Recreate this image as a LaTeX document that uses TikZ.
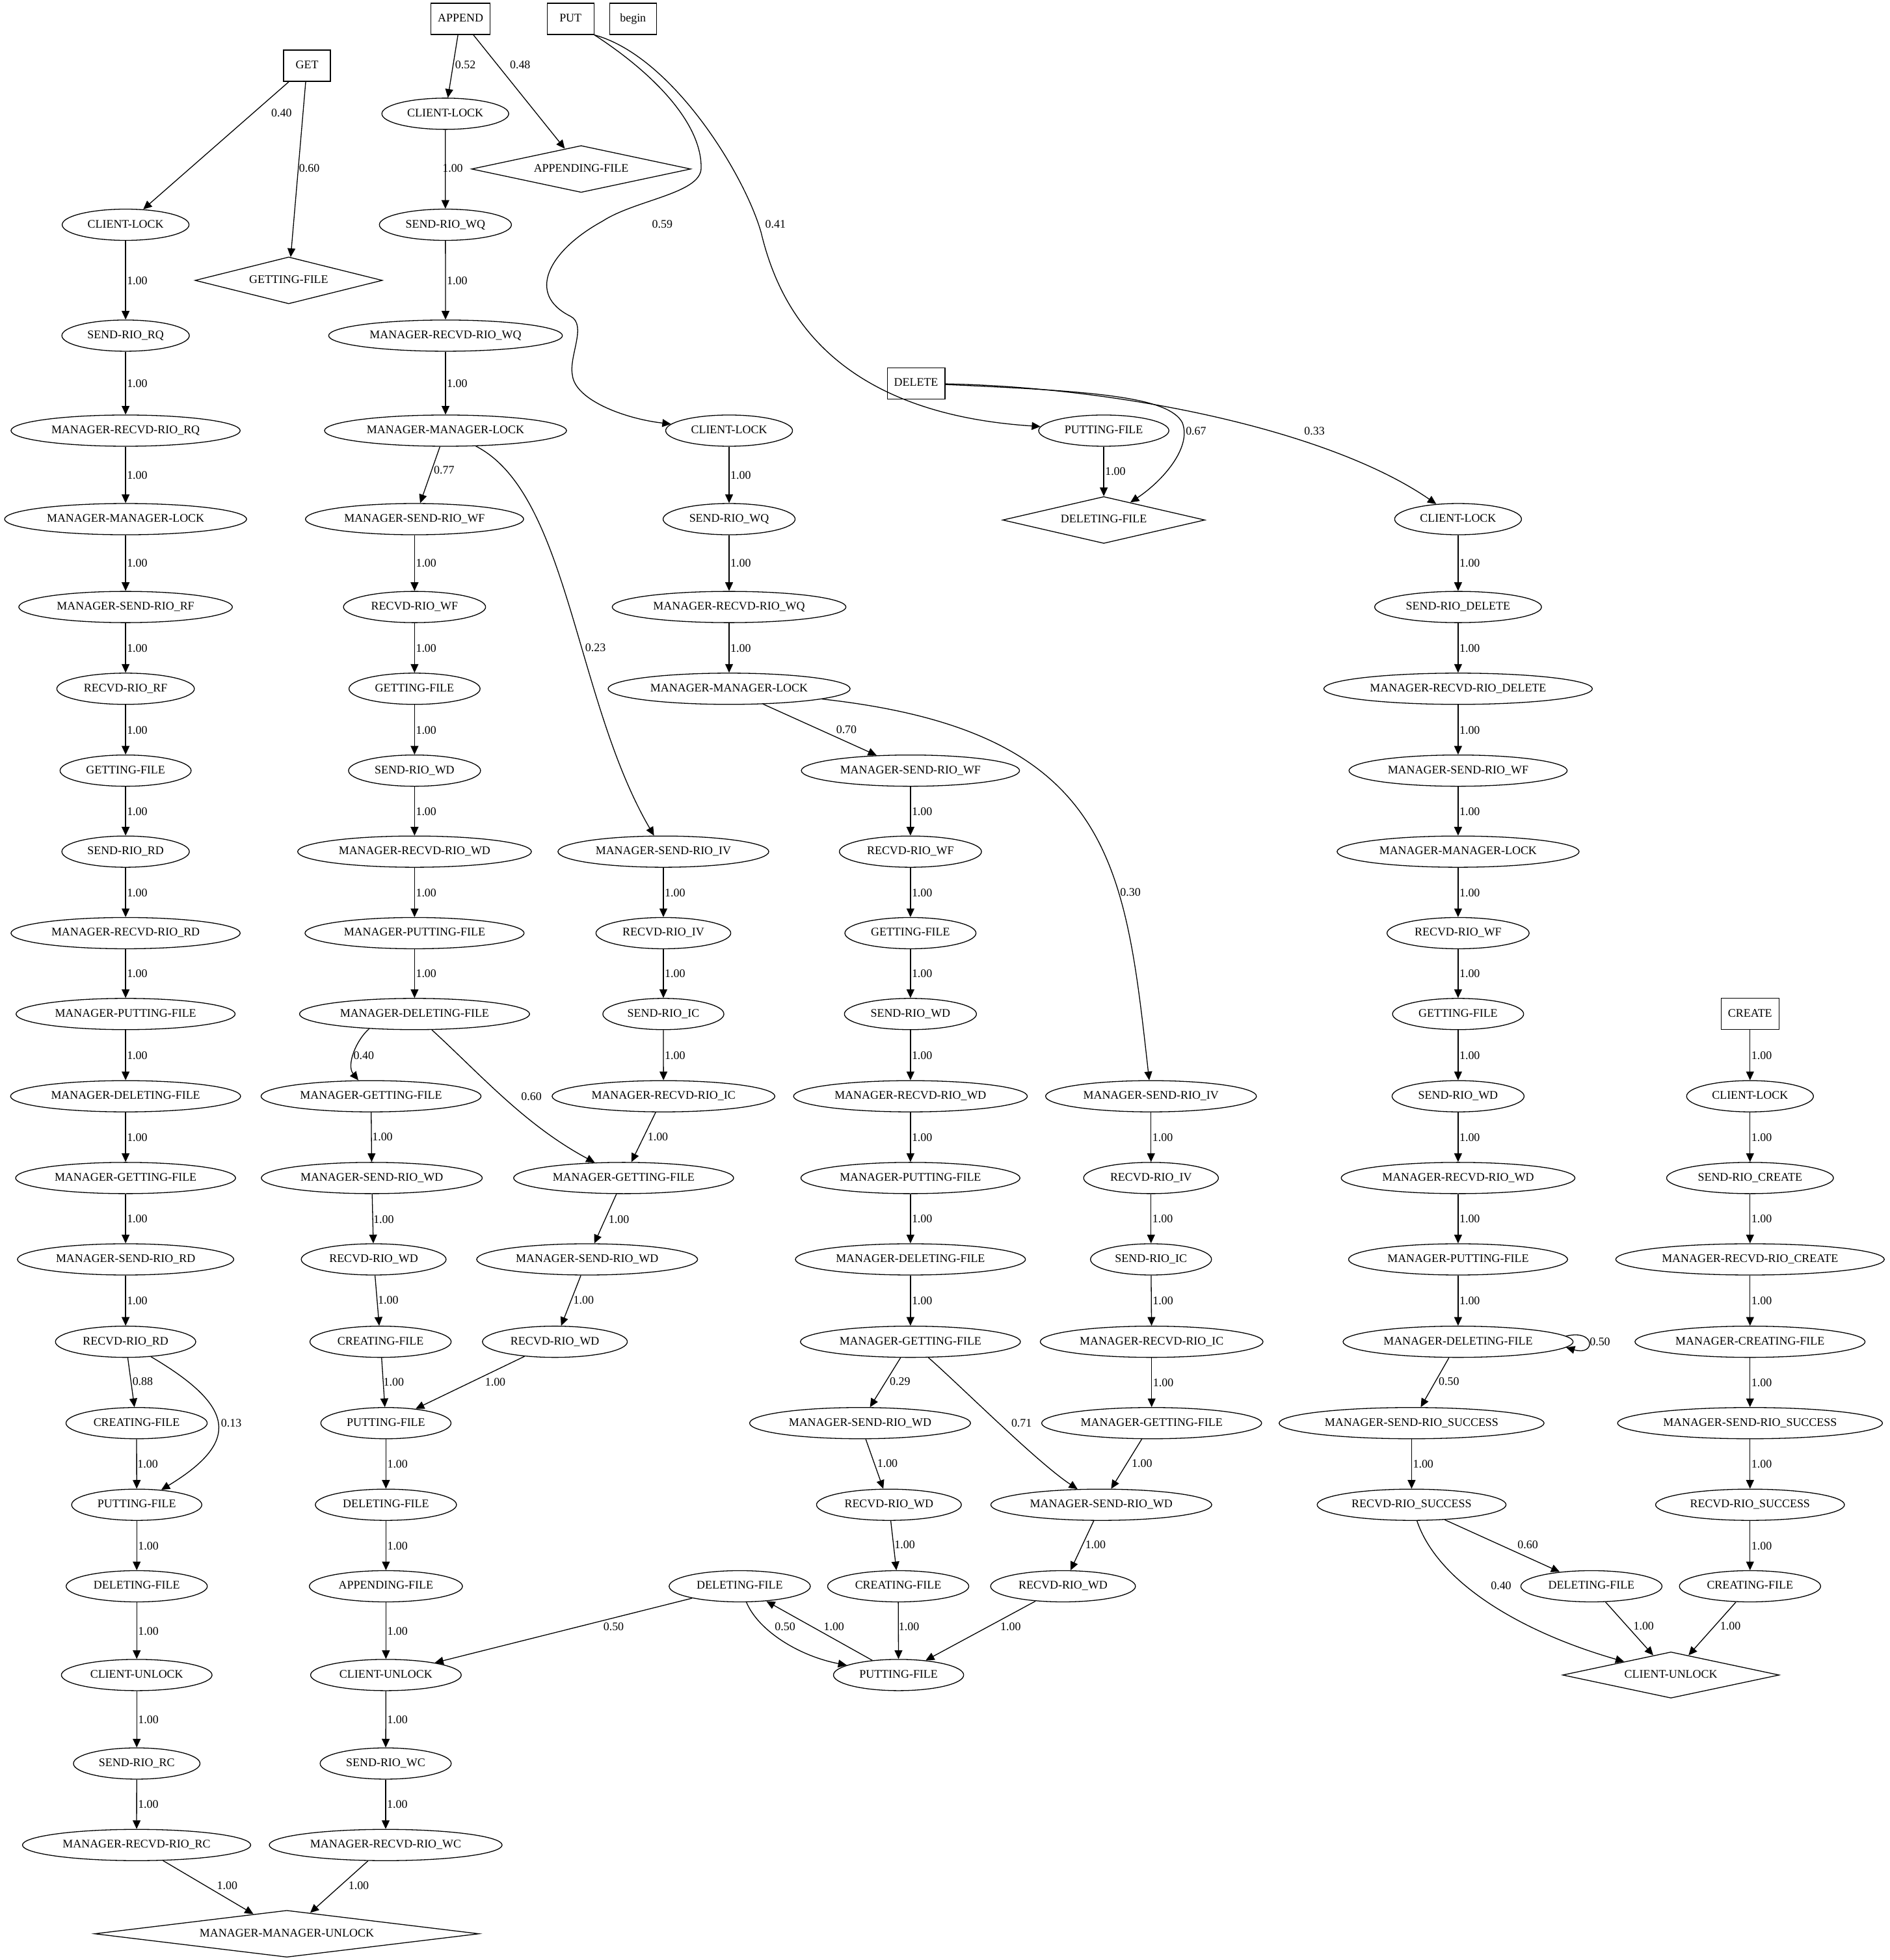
\documentclass[tikz,border=0pt]{standalone}
\usepackage{fontspec}
\setmainfont{Liberation Serif}
\usetikzlibrary{arrows.meta,shapes.geometric}
\begin{document}
\begin{tikzpicture}[x=1.9213bp,y=-1.9213bp,
  every node/.style={font=\fontsize{18}{21}\selectfont},
  st/.style={draw,ellipse,line width=1.3bp,inner xsep=10.5bp,inner ysep=5.3bp,
    minimum height=48bp,minimum width=72bp,text height=12.6bp,text depth=3.6bp},
  op/.style={draw,rectangle,line width=1.3bp,inner xsep=10.5bp,inner ysep=0pt,
    minimum height=48bp,minimum width=72bp,text height=12.6bp,text depth=3.6bp},
  term/.style={draw,diamond,aspect=6,inner sep=0pt,line width=1.3bp,
    minimum height=72bp,text height=12.6bp,text depth=3.6bp},
  arr/.style={-{Triangle[length=13.3bp,width=12bp]},line width=1.3bp},
  lbl/.style={inner sep=1.5bp,anchor=west,text height=12.6bp,text depth=0pt},
  tag/.style={inner sep=0pt,text height=12.6bp,text depth=0pt},
]
\useasboundingbox (0,0) rectangle (1512,1568);

% ---------- operation boxes ----------
\node[op] (APPEND) at (368.5,15.1) {APPEND};
\node[op] (PUT)    at (456.5,15.1) {PUT};
\node[op] (begin)  at (506.5,15.1) {begin};
\node[op] (GET)    at (245.7,52.6) {GET};
\node[op] (DELETE) at (733,306.6)  {DELETE};
\node[op] (CREATE) at (1400.3,811.2) {CREATE};

% ---------- GET chain ----------
\node[term,minimum width=288bp] (gfd) at (231,224.3) {GETTING-FILE};
\node[st] (clg)   at (100.5,179.8) {CLIENT-LOCK};
\node[st] (srrq)  at (100.5,268.5) {SEND-RIO\_RQ};
\node[st] (mrrrq) at (100.5,344.5) {MANAGER-RECVD-RIO\_RQ};
\node[st] (mmlg)  at (100.5,415.3) {MANAGER-MANAGER-LOCK};
\node[st] (msrrf) at (100.5,485.6) {MANAGER-SEND-RIO\_RF};
\node[st] (rrrf)  at (100.5,551)   {RECVD-RIO\_RF};
\node[st] (gfg)   at (100.5,616.5) {GETTING-FILE};
\node[st] (srrd)  at (100.5,681.3) {SEND-RIO\_RD};
\node[st] (mrrrd) at (100.5,746.5) {MANAGER-RECVD-RIO\_RD};
\node[st] (mpfg)  at (100.5,811.2) {MANAGER-PUTTING-FILE};
\node[st] (mdfg)  at (100.5,877)   {MANAGER-DELETING-FILE};
\node[st] (mgfg)  at (100.5,942.4) {MANAGER-GETTING-FILE};
\node[st] (msrrd) at (100.5,1007.5) {MANAGER-SEND-RIO\_RD};
\node[st] (rrrd)  at (100.5,1073.4) {RECVD-RIO\_RD};
\node[st] (cfg)   at (109.3,1138.5) {CREATING-FILE};
\node[st] (pfg)   at (109.4,1203.8) {PUTTING-FILE};
\node[st] (dfg)   at (109.4,1269)   {DELETING-FILE};
\node[st] (cug)   at (109.4,1340)   {CLIENT-UNLOCK};
\node[st] (srrc)  at (109.4,1410.8) {SEND-RIO\_RC};
\node[st] (mrrrc) at (109.3,1476)   {MANAGER-RECVD-RIO\_RC};
\node[term,minimum width=591bp] (mmu) at (229.5,1547) {MANAGER-MANAGER-UNLOCK};

% ---------- APPEND chain ----------
\node[st] (cla)    at (356.3,91)    {CLIENT-LOCK};
\node[term,minimum width=337bp] (afd) at (465,135.2) {APPENDING-FILE};
\node[st] (srwqa)  at (356.4,179.8) {SEND-RIO\_WQ};
\node[st] (mrrwqa) at (356.5,268.5) {MANAGER-RECVD-RIO\_WQ};
\node[st] (mmla)   at (356.5,344.5) {MANAGER-MANAGER-LOCK};
\node[st] (msrwfa) at (331.7,415.3) {MANAGER-SEND-RIO\_WF};
\node[st] (rrwfa)  at (331.7,485.6) {RECVD-RIO\_WF};
\node[st] (gfa)    at (331.7,551)   {GETTING-FILE};
\node[st] (srwda)  at (331.7,616.5) {SEND-RIO\_WD};
\node[st] (mrrwda) at (331.7,681.3) {MANAGER-RECVD-RIO\_WD};
\node[st] (mpfa)   at (331.7,746.5) {MANAGER-PUTTING-FILE};
\node[st] (mdfa)   at (331.7,811.2) {MANAGER-DELETING-FILE};
\node[st] (mgfa)   at (296.9,877)   {MANAGER-GETTING-FILE};
\node[st] (msrwda) at (297.5,942.4) {MANAGER-SEND-RIO\_WD};
\node[st] (rrwda)  at (299,1007.5)  {RECVD-RIO\_WD};
\node[st] (cfa)    at (304.5,1073.4) {CREATING-FILE};
\node[st] (pfa)    at (308.8,1138.5) {PUTTING-FILE};
\node[st] (dfa)    at (308.8,1203.8) {DELETING-FILE};
\node[st] (afa)    at (308.8,1269)   {APPENDING-FILE};
\node[st] (cua)    at (308.8,1340)   {CLIENT-UNLOCK};
\node[st] (srwc)   at (308.6,1410.8) {SEND-RIO\_WC};
\node[st] (mrrwc)  at (308.6,1476)   {MANAGER-RECVD-RIO\_WC};

\node[st] (msrivb) at (530.8,681.3) {MANAGER-SEND-RIO\_IV};
\node[st] (rrivb)  at (530.8,746.5) {RECVD-RIO\_IV};
\node[st] (sricb)  at (530.8,811.2) {SEND-RIO\_IC};
\node[st] (mrricb) at (530.9,877)   {MANAGER-RECVD-RIO\_IC};
\node[st] (mgfb)   at (499,942.4)   {MANAGER-GETTING-FILE};
\node[st] (msrwdb) at (469.8,1007.5) {MANAGER-SEND-RIO\_WD};
\node[st] (rrwdb)  at (444,1073.4)  {RECVD-RIO\_WD};

% ---------- PUT chain ----------
\node[st] (clp)    at (583.4,344.5) {CLIENT-LOCK};
\node[st] (srwqp)  at (583.4,415.3) {SEND-RIO\_WQ};
\node[st] (mrrwqp) at (583.4,485.6) {MANAGER-RECVD-RIO\_WQ};
\node[st] (mmlp)   at (583.4,551)   {MANAGER-MANAGER-LOCK};
\node[st] (msrwfp) at (728.5,616.5) {MANAGER-SEND-RIO\_WF};
\node[st] (rrwfp)  at (728.5,681.3) {RECVD-RIO\_WF};
\node[st] (gfp)    at (728.5,746.5) {GETTING-FILE};
\node[st] (srwdp)  at (728.5,811.2) {SEND-RIO\_WD};
\node[st] (mrrwdp) at (728.5,877)   {MANAGER-RECVD-RIO\_WD};
\node[st] (mpfp)   at (728.5,942.4) {MANAGER-PUTTING-FILE};
\node[st] (mdfp)   at (728.5,1007.5) {MANAGER-DELETING-FILE};
\node[st] (mgfp)   at (728.5,1073.4) {MANAGER-GETTING-FILE};
\node[st] (msrwdc) at (688.2,1138.5) {MANAGER-SEND-RIO\_WD};
\node[st] (rrwdc)  at (711.3,1203.8) {RECVD-RIO\_WD};
\node[st] (cfc)    at (718.7,1269)   {CREATING-FILE};
\node[st] (pfc)    at (719,1340)     {PUTTING-FILE};
\node[st] (dfc)    at (591.9,1269)   {DELETING-FILE};
\node[st] (pfp)    at (883.2,344.5)  {PUTTING-FILE};
\node[term,minimum width=311bp] (dfd) at (883.2,416) {DELETING-FILE};

\node[st] (msrivc) at (921,877)     {MANAGER-SEND-RIO\_IV};
\node[st] (rrivc)  at (921,942.4)   {RECVD-RIO\_IV};
\node[st] (sricc)  at (921,1007.5)  {SEND-RIO\_IC};
\node[st] (mrricc) at (921.5,1073.4) {MANAGER-RECVD-RIO\_IC};
\node[st] (mgfc)   at (921.5,1138.5) {MANAGER-GETTING-FILE};
\node[st] (msrwdd) at (881.2,1203.8) {MANAGER-SEND-RIO\_WD};
\node[st] (rrwdd)  at (850.6,1269)   {RECVD-RIO\_WD};

% ---------- DELETE chain ----------
\node[st] (cld)    at (1166.7,415.3) {CLIENT-LOCK};
\node[st] (srdel)  at (1166.7,485.6) {SEND-RIO\_DELETE};
\node[st] (mrrdel) at (1166.7,551)   {MANAGER-RECVD-RIO\_DELETE};
\node[st] (msrwfd) at (1166.7,616.5) {MANAGER-SEND-RIO\_WF};
\node[st] (mmld)   at (1166.7,681.3) {MANAGER-MANAGER-LOCK};
\node[st] (rrwfd)  at (1166.7,746.5) {RECVD-RIO\_WF};
\node[st] (gfdel)  at (1166.7,811.2) {GETTING-FILE};
\node[st] (srwdd)  at (1166.7,877)   {SEND-RIO\_WD};
\node[st] (mrrwdd) at (1166.7,942.4) {MANAGER-RECVD-RIO\_WD};
\node[st] (mpfd)   at (1166.7,1007.5) {MANAGER-PUTTING-FILE};
\node[st] (mdfd)   at (1166.7,1073.4) {MANAGER-DELETING-FILE};
\node[st] (msrsd)  at (1129.5,1138.5) {MANAGER-SEND-RIO\_SUCCESS};
\node[st] (rrsd)   at (1129.5,1203.8) {RECVD-RIO\_SUCCESS};
\node[st] (dfdel)  at (1273.4,1269)   {DELETING-FILE};
\node[term,minimum width=333bp,minimum height=71bp] (cud) at (1337,1340) {CLIENT-UNLOCK};

% ---------- CREATE chain ----------
\node[st] (clcr)   at (1400.3,877)   {CLIENT-LOCK};
\node[st] (srcr)   at (1400.3,942.4) {SEND-RIO\_CREATE};
\node[st] (mrrcr)  at (1400.3,1007.5) {MANAGER-RECVD-RIO\_CREATE};
\node[st] (mcf)    at (1400.3,1073.4) {MANAGER-CREATING-FILE};
\node[st] (msrscr) at (1400.3,1138.5) {MANAGER-SEND-RIO\_SUCCESS};
\node[st] (rrscr)  at (1400.3,1203.8) {RECVD-RIO\_SUCCESS};
\node[st] (cfcr)   at (1400.3,1269)   {CREATING-FILE};

% ========== transitions ==========
% GET
\draw[arr] (GET) -- (clg) node[tag] at (225.3,90.2) {0.40};
\draw[arr] (GET) -- (gfd) node[tag] at (247.5,134.5) {0.60};
\draw[arr] (clg) -- node[lbl] {1.00} (srrq);
\draw[arr] (srrq) -- node[lbl] {1.00} (mrrrq);
\draw[arr] (mrrrq) -- node[lbl] {1.00} (mmlg);
\draw[arr] (mmlg) -- node[lbl] {1.00} (msrrf);
\draw[arr] (msrrf) -- node[lbl] {1.00} (rrrf);
\draw[arr] (rrrf) -- node[lbl] {1.00} (gfg);
\draw[arr] (gfg) -- node[lbl] {1.00} (srrd);
\draw[arr] (srrd) -- node[lbl] {1.00} (mrrrd);
\draw[arr] (mrrrd) -- node[lbl] {1.00} (mpfg);
\draw[arr] (mpfg) -- node[lbl] {1.00} (mdfg);
\draw[arr] (mdfg) -- node[lbl] {1.00} (mgfg);
\draw[arr] (mgfg) -- node[lbl] {1.00} (msrrd);
\draw[arr] (msrrd) -- node[lbl] {1.00} (rrrd);
\draw[arr] (rrrd) -- (cfg) node[tag] at (114.2,1105.1) {0.88};
\draw[arr] (rrrd) .. controls (188,1125) and (193,1153) .. (pfg)
  node[tag] at (185.1,1138) {0.13};
\draw[arr] (cfg) -- (pfg) node[tag] at (118.2,1170.8) {1.00};
\draw[arr] (pfg) -- node[lbl] {1.00} (dfg);
\draw[arr] (dfg) -- node[lbl] {1.00} (cug);
\draw[arr] (cug) -- node[lbl] {1.00} (srrc);
\draw[arr] (srrc) -- node[lbl] {1.00} (mrrrc);
\draw[arr] (mrrrc) -- (mmu) node[tag] at (181.8,1508) {1.00};

% APPEND
\draw[arr] (APPEND) -- (cla) node[tag] at (372.4,51.7) {0.52};
\draw[arr] (APPEND) -- (afd) node[tag] at (416.2,51.7) {0.48};
\draw[arr] (cla) -- (srwqa) node[tag] at (362.2,134.5) {1.00};
\draw[arr] (srwqa) -- node[lbl] {1.00} (mrrwqa);
\draw[arr] (mrrwqa) -- node[lbl] {1.00} (mmla);
\draw[arr] (mmla) -- (msrwfa) node[tag] at (355.4,376) {0.77};
\draw[arr] (mmla) .. controls (455,395) and (460,560) .. (msrivb)
  node[tag] at (476.5,518.1) {0.23};
\draw[arr] (msrwfa) -- node[lbl] {1.00} (rrwfa);
\draw[arr] (rrwfa) -- node[lbl] {1.00} (gfa);
\draw[arr] (gfa) -- node[lbl] {1.00} (srwda);
\draw[arr] (srwda) -- node[lbl] {1.00} (mrrwda);
\draw[arr] (mrrwda) -- node[lbl] {1.00} (mpfa);
\draw[arr] (mpfa) -- node[lbl] {1.00} (mdfa);
\draw[arr] (mdfa.198) .. controls (285,832) and (277,852) .. (mgfa)
  node[tag] at (291.1,844.4) {0.40};
\draw[arr] (mdfa) .. controls (385,860) and (420,900) .. (mgfb)
  node[tag] at (425.2,876.9) {0.60};
\draw[arr] (mgfa) -- (msrwda) node[tag] at (306,909.5) {1.00};
\draw[arr] (msrwda) -- (rrwda) node[tag] at (307,975.1) {1.00};
\draw[arr] (rrwda) -- (cfa) node[tag] at (310.6,1040) {1.00};
\draw[arr] (cfa) -- (pfa) node[tag] at (315,1105.2) {1.00};
\draw[arr] (msrivb) -- node[lbl] {1.00} (rrivb);
\draw[arr] (rrivb) -- node[lbl] {1.00} (sricb);
\draw[arr] (sricb) -- node[lbl] {1.00} (mrricb);
\draw[arr] (mrricb) -- (mgfb) node[tag] at (526.4,909.5) {1.00};
\draw[arr] (mgfb) -- (msrwdb) node[tag] at (495.2,975.1) {1.00};
\draw[arr] (msrwdb) -- (rrwdb) node[tag] at (467,1040) {1.00};
\draw[arr] (rrwdb) -- (pfa) node[tag] at (396.3,1105.2) {1.00};
\draw[arr] (pfa) -- node[lbl] {1.00} (dfa);
\draw[arr] (dfa) -- node[lbl] {1.00} (afa);
\draw[arr] (afa) -- node[lbl] {1.00} (cua);
\draw[arr] (cua) -- node[lbl] {1.00} (srwc);
\draw[arr] (srwc) -- node[lbl] {1.00} (mrrwc);
\draw[arr] (mrrwc) -- (mmu) node[tag] at (287,1508) {1.00};

% PUT
\draw[arr] (PUT.south east) .. controls (525,60) and (562,100) .. (561,135)
  .. controls (560,155) and (508,160) .. (482,177)
  .. controls (440,200) and (420,235) .. (456.5,253)
  .. controls (470,260) and (455,285) .. (458,300)
  .. controls (460,320) and (500,335) .. (clp)
  node[tag] at (530,178.9) {0.59};
\draw[arr] (PUT.south east) .. controls (538,45) and (596,140) .. (609,186)
  .. controls (622,240) and (660,330) .. (pfp)
  node[tag] at (620.5,178.9) {0.41};
\draw[arr] (pfp) -- node[lbl] {1.00} (dfd);
\draw[arr] (clp) -- node[lbl] {1.00} (srwqp);
\draw[arr] (srwqp) -- node[lbl] {1.00} (mrrwqp);
\draw[arr] (mrrwqp) -- node[lbl] {1.00} (mmlp);
\draw[arr] (mmlp) -- (msrwfp) node[tag] at (677.3,583.7) {0.70};
\draw[arr] (mmlp) .. controls (890,585) and (900,690) .. (msrivc)
  node[tag] at (904.5,713.5) {0.30};
\draw[arr] (msrwfp) -- node[lbl] {1.00} (rrwfp);
\draw[arr] (rrwfp) -- node[lbl] {1.00} (gfp);
\draw[arr] (gfp) -- node[lbl] {1.00} (srwdp);
\draw[arr] (srwdp) -- node[lbl] {1.00} (mrrwdp);
\draw[arr] (mrrwdp) -- node[lbl] {1.00} (mpfp);
\draw[arr] (mpfp) -- node[lbl] {1.00} (mdfp);
\draw[arr] (mdfp) -- node[lbl] {1.00} (mgfp);
\draw[arr] (mgfp) -- (msrwdc) node[tag] at (720.2,1105.1) {0.29};
\draw[arr] (mgfp) .. controls (770,1110) and (830,1170) .. (msrwdd)
  node[tag] at (817.4,1138.4) {0.71};
\draw[arr] (msrwdc) -- (rrwdc) node[tag] at (710.1,1170.7) {1.00};
\draw[arr] (rrwdc) -- (cfc) node[tag] at (723.9,1235.8) {1.00};
\draw[arr] (cfc) -- (pfc) node[tag] at (727.3,1300.9) {1.00};
\draw[arr] (msrivc) -- node[lbl] {1.00} (rrivc);
\draw[arr] (rrivc) -- node[lbl] {1.00} (sricc);
\draw[arr] (sricc) -- node[lbl] {1.00} (mrricc);
\draw[arr] (mrricc) -- node[lbl] {1.00} (mgfc);
\draw[arr] (mgfc) -- (msrwdd) node[tag] at (913.8,1170.7) {1.00};
\draw[arr] (msrwdd) -- (rrwdd) node[tag] at (876.6,1235.8) {1.00};
\draw[arr] (rrwdd) -- (pfc) node[tag] at (808.6,1300.9) {1.00};
\draw[arr] (pfc) -- (dfc) node[tag] at (667.3,1300.9) {1.00};
\draw[arr] (dfc) .. controls (607,1305) and (640,1325) .. (pfc)
  node[tag] at (628.2,1300.9) {0.50};
\draw[arr] (dfc) -- (cua) node[tag] at (491,1300.9) {0.50};

% DELETE
\draw[arr] (DELETE) .. controls (880,313) and (935,318) .. (946,338)
  .. controls (954,358) and (930,385) .. (dfd)
  node[tag] at (957,344.4) {0.67};
\draw[arr] (DELETE) .. controls (900,310) and (1065,345) .. (cld)
  node[tag] at (1051.8,344.4) {0.33};
\draw[arr] (cld) -- node[lbl] {1.00} (srdel);
\draw[arr] (srdel) -- node[lbl] {1.00} (mrrdel);
\draw[arr] (mrrdel) -- node[lbl] {1.00} (msrwfd);
\draw[arr] (msrwfd) -- node[lbl] {1.00} (mmld);
\draw[arr] (mmld) -- node[lbl] {1.00} (rrwfd);
\draw[arr] (rrwfd) -- node[lbl] {1.00} (gfdel);
\draw[arr] (gfdel) -- node[lbl] {1.00} (srwdd);
\draw[arr] (srwdd) -- node[lbl] {1.00} (mrrwdd);
\draw[arr] (mrrwdd) -- node[lbl] {1.00} (mpfd);
\draw[arr] (mpfd) -- node[lbl] {1.00} (mdfd);
\draw[arr] (mdfd.3) .. controls (1277,1063) and (1277,1085) .. (mdfd.-3)
  node[tag] at (1280.2,1073) {0.50};
\draw[arr] (mdfd) -- (msrsd) node[tag] at (1159.4,1105.1) {0.50};
\draw[arr] (msrsd) -- node[lbl] {1.00} (rrsd);
\draw[arr] (rrsd) -- (dfdel) node[tag] at (1222.5,1235.7) {0.60};
\draw[arr] (rrsd) .. controls (1150,1265) and (1215,1305) .. (cud)
  node[tag] at (1201.1,1268.2) {0.40};
\draw[arr] (dfdel) -- (cud) node[tag] at (1315.2,1300.7) {1.00};

% CREATE
\draw[arr] (CREATE) -- node[lbl] {1.00} (clcr);
\draw[arr] (clcr) -- node[lbl] {1.00} (srcr);
\draw[arr] (srcr) -- node[lbl] {1.00} (mrrcr);
\draw[arr] (mrrcr) -- node[lbl] {1.00} (mcf);
\draw[arr] (mcf) -- node[lbl] {1.00} (msrscr);
\draw[arr] (msrscr) -- node[lbl] {1.00} (rrscr);
\draw[arr] (rrscr) -- node[lbl] {1.00} (cfcr);
\draw[arr] (cfcr) -- (cud) node[tag] at (1384.6,1300.7) {1.00};
\end{tikzpicture}
\end{document}
